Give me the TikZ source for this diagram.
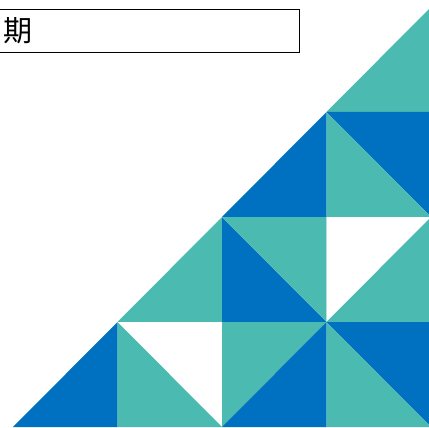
\documentclass[tikz,border=0pt]{standalone}
\usepackage{fontspec}
\newfontfamily\cjk{Noto Sans CJK SC}
\usepackage{tikz}
\definecolor{tealc}{HTML}{4BBBB1}
\definecolor{bluec}{HTML}{0070C0}
\tikzset{
	tri/.style={draw=none},
	datebox/.style={draw,line width=1.1pt,anchor=north west,inner xsep=7pt,inner ysep=0pt,
		minimum height=43pt,text width=289pt,align=left,font=\cjk\fontsize{29}{29}\selectfont}
}

\begin{document}
\begin{tikzpicture}[x=1pt,y=-1pt]
	\useasboundingbox (0,0) rectangle (429,428);
	\node[datebox] (date) at (-4,9) {期};
	\begin{scope}[shift={(13,7)},x=104.5pt,y=-105pt]
	\foreach \col/\ax/\ay/\bx/\by/\cx/\cy in {
		tealc/3/1/4/1/4/0,
		bluec/2/2/3/2/3/1,
		bluec/3/1/4/1/4/2, tealc/3/1/3/2/4/2,
		tealc/1/3/2/3/2/2,
		bluec/2/2/2/3/3/3, tealc/2/2/3/2/3/3,
		white/3/2/4/2/3/3, tealc/4/2/4/3/3/3,
		bluec/0/4/1/4/1/3,
		white/1/3/2/3/2/4, tealc/1/3/1/4/2/4,
		tealc/2/3/3/3/2/4, bluec/3/3/3/4/2/4,
		bluec/3/3/4/3/4/4, tealc/3/3/3/4/4/4}
		\fill[tri,\col] (\ax,\ay) -- (\bx,\by) -- (\cx,\cy) -- cycle;
	\end{scope}
\end{tikzpicture}
\end{document}
